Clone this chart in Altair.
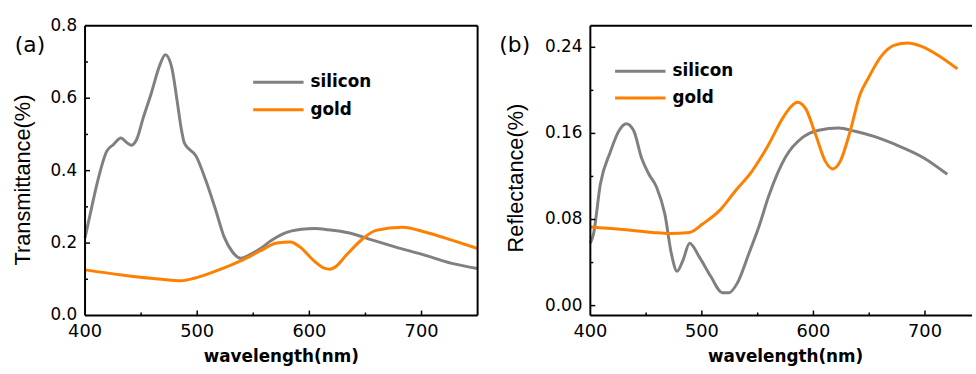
import altair as alt
import pandas as pd

# ---------------- data ----------------
t_si_wl = [400, 406, 410.6, 419.4, 425.3, 432, 437, 441, 446, 451.8, 459, 466.5, 471.6, 476.9,
           482.7, 485.7, 488.6, 499, 507.8, 516.6, 524, 531.3, 538.7, 547, 556.4, 566, 577, 593,
           605, 616.7, 635.9, 656.4, 677, 700.6, 727, 750]
t_si_val = [0.215, 0.30, 0.363, 0.454, 0.472, 0.49, 0.478, 0.47, 0.486, 0.545, 0.613, 0.69, 0.72,
            0.69, 0.58, 0.517, 0.476, 0.44, 0.372, 0.29, 0.217, 0.176, 0.158, 0.168, 0.185, 0.207,
            0.226, 0.238, 0.24, 0.237, 0.228, 0.208, 0.189, 0.169, 0.144, 0.13]

t_au_wl = [400, 432.7, 468, 485.7, 497.4, 515, 530, 547.5, 556, 571, 583, 591.7, 603.4, 613.8,
           618, 622.6, 633, 647.6, 659.4, 683, 703.6, 727, 750]
t_au_val = [0.126, 0.112, 0.1, 0.096, 0.103, 0.121, 0.139, 0.164, 0.178, 0.2, 0.203, 0.189, 0.153,
            0.13, 0.128, 0.133, 0.167, 0.212, 0.235, 0.244, 0.23, 0.208, 0.185]

r_si_wl = [400, 402.7, 409, 418, 425.4, 432.2, 438.7, 446, 452, 459.4, 466.8, 472.7, 477.7, 483,
           489, 497.8, 508, 518.5, 524.4, 531.8, 542, 551, 560, 575, 590, 604.8, 622.5, 637.3,
           655, 672.8, 699.4, 720, 743, 750]
r_si_val = [0.058, 0.066, 0.113, 0.143, 0.162, 0.169, 0.163, 0.137, 0.123, 0.11, 0.085, 0.048,
            0.032, 0.042, 0.058, 0.045, 0.027, 0.012, 0.012, 0.021, 0.048, 0.073, 0.102, 0.138,
            0.156, 0.163, 0.165, 0.162, 0.157, 0.15, 0.137, 0.122, 0.108, 0.104]

r_au_wl = [400, 426.6, 456, 471, 489, 500.8, 515.5, 530.3, 545, 560, 572.3, 580, 585.6, 593,
           601.9, 610.7, 617.2, 624, 632.9, 641.7, 649, 661, 672.8, 684.6, 696.4, 714, 729, 743, 750]
r_au_val = [0.073, 0.071, 0.068, 0.067, 0.068, 0.076, 0.088, 0.107, 0.125, 0.15, 0.174, 0.185,
            0.189, 0.183, 0.159, 0.134, 0.127, 0.134, 0.162, 0.196, 0.211, 0.232, 0.242, 0.244,
            0.241, 0.231, 0.22, 0.205, 0.197]

series_names = ["silicon", "gold"]
series_colors = ["#808080", "#FF8000"]

x_labels = [400, 500, 600, 700]
x_major = [500, 600, 700]
x_minor = [450, 550, 650]

t_y_labels = [0.0, 0.2, 0.4, 0.6, 0.8]
t_y_major = [0.2, 0.4, 0.6]
t_y_minor = [0.1, 0.3, 0.5, 0.7]

r_y_labels = [0.0, 0.08, 0.16, 0.24]
r_y_major = [0.0, 0.08, 0.16, 0.24]
r_y_minor = [0.04, 0.12, 0.20]

color_scale = alt.Scale(domain=series_names + ["frame"], range=series_colors + ["#000000"])


def build_df(si_wl, si_val, au_wl, au_val, xdom, ydom, W, H, y_major, y_minor, right_border):
    rows = []
    for name, wl, val in (("silicon", si_wl, si_val), ("gold", au_wl, au_val)):
        for w, v in zip(wl, val):
            if w <= xdom[1] + 1e-9:
                rows.append((w, v, name, name, 3.0))
    # frame: straight two-point segments on the plot edges
    x0, x1 = xdom
    y0, y1 = ydom
    segs = [("top", (x0, y1), (x1, y1)), ("bottom", (x0, y0), (x1, y0)),
            ("left", (x0, y0), (x0, y1))]
    if right_border:
        segs.append(("right", (x1, y0), (x1, y1)))
    for g, a, b in segs:
        rows.append((a[0], a[1], "f_" + g, "frame", 2.0))
        rows.append((b[0], b[1], "f_" + g, "frame", 2.0))
    # inward ticks (length given in pixels, converted to data units)
    dx = (x1 - x0) / W
    dy = (y1 - y0) / H
    for vals, ln in ((x_major, 5), (x_minor, 3)):
        for v in vals:
            rows.append((v, y0, "tx%s" % v, "frame", 1.5))
            rows.append((v, y0 + ln * dy, "tx%s" % v, "frame", 1.5))
    for vals, ln in ((y_major, 5), (y_minor, 3)):
        for v in vals:
            rows.append((x0, v, "ty%s" % v, "frame", 1.5))
            rows.append((x0 + ln * dx, v, "ty%s" % v, "frame", 1.5))
    return pd.DataFrame(rows, columns=["wl", "val", "grp", "kind", "sw"])


def panel(df, W, H, xdom, ydom, y_labels, y_fmt, y_title, y_title_x, y_title_y,
          x_title_x, label, label_x, leg_x, leg_y):
    xs = alt.Scale(domain=xdom, nice=False, zero=False)
    ys = alt.Scale(domain=ydom, nice=False, zero=False)
    one = alt.Data(values=[{"a": 1}])

    def X(f):
        return alt.X(f, type="quantitative", scale=xs, axis=None)

    def Y(f):
        return alt.Y(f, type="quantitative", scale=ys, axis=None)

    lines = alt.Chart(df).mark_line(interpolate="monotone").encode(
        x=X("wl"), y=Y("val"),
        color=alt.Color("kind:N", scale=color_scale, legend=None),
        detail="grp:N",
        strokeWidth=alt.StrokeWidth("sw:Q", scale=None, legend=None),
    )

    xlab = alt.Chart(pd.DataFrame({"wl": x_labels})).mark_text(
        align="center", baseline="middle", font="DejaVu Sans", fontSize=18,
        color="black").encode(x=X("wl"), y=alt.value(H + 16.5),
                              text=alt.Text("wl:Q", format="d"))
    ylab = alt.Chart(pd.DataFrame({"val": y_labels})).mark_text(
        align="right", baseline="middle", font="DejaVu Sans", fontSize=17,
        color="black").encode(y=Y("val"), x=alt.value(-8),
                              text=alt.Text("val:Q", format=y_fmt))
    xtitle = alt.Chart(one).mark_text(
        align="center", baseline="middle", font="DejaVu Sans", fontSize=17,
        fontWeight="bold", color="black").encode(
        x=alt.value(x_title_x), y=alt.value(H + 42), text=alt.value("wavelength(nm)"))
    ytitle = alt.Chart(one).mark_text(
        align="center", baseline="middle", font="Liberation Sans", fontSize=22,
        angle=270, color="black").encode(
        x=alt.value(y_title_x), y=alt.value(y_title_y), text=alt.value(y_title))

    legend = []
    for name, col, ly in zip(series_names, series_colors, leg_y):
        legend.append(alt.Chart(one).mark_rule(strokeWidth=3, color=col).encode(
            x=alt.value(leg_x), x2=alt.value(leg_x + 51), y=alt.value(ly)))
        legend.append(alt.Chart(one).mark_text(
            align="left", baseline="middle", font="DejaVu Sans", fontWeight="bold",
            fontSize=17, color="black").encode(
            x=alt.value(leg_x + 58), y=alt.value(ly), text=alt.value(name)))

    lab = alt.Chart(one).mark_text(
        align="left", baseline="middle", font="DejaVu Sans", fontSize=22,
        color="black").encode(x=alt.value(label_x), y=alt.value(20), text=alt.value(label))

    return alt.layer(lines, xlab, ylab, xtitle, ytitle, *legend, lab).properties(
        width=W, height=H)


W1, H = 397, 293
W2 = 386
xdom1, ydom1 = [400, 750], [0, 0.8]
xdom2, ydom2 = [400, 400 + W2 / 1.128], [-0.0092, 0.26]

left = panel(build_df(t_si_wl, t_si_val, t_au_wl, t_au_val, xdom1, ydom1, W1, H,
                      t_y_major, t_y_minor, True),
             W1, H, xdom1, ydom1, t_y_labels, ".1f", "Transmittance(%)", -63, 156,
             W1 / 2, "(a)", -71, 170, [57, 85])
right = panel(build_df(r_si_wl, r_si_val, r_au_wl, r_au_val, xdom2, ydom2, W2, H,
                       r_y_major, r_y_minor, False),
              W2, H, xdom2, ydom2, r_y_labels, ".2f", "Reflectance(%)", -75, 154,
              395 / 2, "(b)", -92, 25, [46, 73])

chart = alt.hconcat(left, right, spacing=16).properties(
    padding={"left": 12, "top": 15, "right": 0, "bottom": 0},
    background="white",
).configure_view(stroke=None)

chart.save("out.html", embed_options={"renderer": "svg", "actions": False})
